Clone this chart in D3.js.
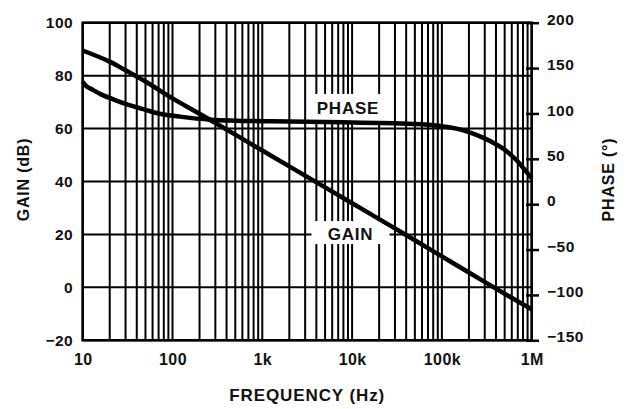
<!DOCTYPE html>
<html>
<head>
<meta charset="utf-8">
<script src="https://cdn.jsdelivr.net/npm/d3@7"></script>
<style>
  html, body { margin: 0; padding: 0; background: #fff; }
  svg { display: block; }
  text { font-family: "Liberation Sans", Arial, Helvetica, sans-serif; font-weight: bold; fill: #111; }
</style>
</head>
<body>
<svg id="chart" width="628" height="409"></svg>
<script>
// Open-loop gain and phase versus frequency
const gainFreq = [10, 20, 30, 50, 100, 200, 500, 1e3, 2e3, 5e3, 1e4, 2e4, 5e4, 1e5, 2e5, 5e5, 1e6];
const gainDb   = [89.5, 85.3, 82.0, 77.8, 71.4, 65.6, 57.7, 51.7, 45.7, 37.8, 31.8, 25.8, 17.8, 11.7, 5.6, -2.4, -8.3];

const phaseFreq = [10, 11, 13, 16, 22, 30, 50, 70, 120, 270, 500, 1e3, 2e3, 5e3, 1e4, 2e4, 5e4, 7e4, 1e5, 1.5e5, 2e5, 3e5, 4e5, 5e5, 7e5, 8.5e5, 1e6];
const phaseDeg  = [135, 130, 126, 121, 115.5, 110.5, 104, 100, 96.5, 93, 92, 91.5, 91, 90.5, 90, 89.5, 88.3, 87.5, 86, 83, 79.5, 72.5, 66, 60, 47, 37, 28.5];

const decadeTicks  = [10, 100, 1e3, 1e4, 1e5, 1e6];
const decadeLabels = ["10", "100", "1k", "10k", "100k", "1M"];
const gainTicks  = [-20, 0, 20, 40, 60, 80, 100];
const phaseTicks = [-150, -100, -50, 0, 50, 100, 150, 200];

const svg = d3.select("#chart");
const L = 82.7, R = 531.7, T = 22.7, B = 340.3;

const x  = d3.scaleLog().domain([10, 1e6]).range([L, R]);
const yG = d3.scaleLinear().domain([-20, 100]).range([B, T]);
const yP = d3.scaleLinear().domain([-150, 200]).range([B, T]);

// grid: every 1..9 step of each decade, and every 20 dB
const grid = svg.append("g").attr("stroke", "#000").attr("stroke-width", 2);
grid.selectAll("line.v").data(x.ticks()).join("line")
  .attr("class", "v")
  .attr("x1", d => x(d)).attr("x2", d => x(d))
  .attr("y1", T).attr("y2", B);
grid.selectAll("line.h").data(gainTicks).join("line")
  .attr("class", "h")
  .attr("x1", L).attr("x2", R)
  .attr("y1", d => yG(d)).attr("y2", d => yG(d));

// frame
svg.append("rect")
  .attr("x", L).attr("y", T).attr("width", R - L).attr("height", B - T)
  .attr("fill", "none").attr("stroke", "#000").attr("stroke-width", 2.5);

// left axis (gain)
const axL = svg.append("g").attr("transform", `translate(${L},0)`)
  .call(d3.axisLeft(yG).tickValues(gainTicks).tickSize(0).tickPadding(9.5));
axL.select(".domain").remove();
axL.selectAll("text").attr("font-size", 15.5).attr("letter-spacing", 0.5)
  .attr("font-family", null).attr("fill", "#111");

// right axis (phase): short ticks straddling the frame
const axR = svg.append("g").attr("transform", `translate(${R - 5.7},0)`)
  .call(d3.axisRight(yP).tickValues(phaseTicks).tickSize(13).tickPadding(8));
axR.select(".domain").remove();
axR.selectAll("line").attr("stroke", "#000").attr("stroke-width", 2.5);
axR.selectAll("text").attr("font-size", 15.5).attr("letter-spacing", 0.5)
  .attr("font-family", null).attr("fill", "#111").attr("dy", "0.1em");

// bottom axis (frequency)
const axB = svg.append("g").attr("transform", `translate(0,${B})`)
  .call(d3.axisBottom(x).tickValues(decadeTicks).tickSize(0).tickPadding(13)
    .tickFormat((d, i) => decadeLabels[i]));
axB.select(".domain").remove();
axB.selectAll("text").attr("font-size", 16).attr("letter-spacing", 0.4)
  .attr("font-family", null).attr("fill", "#111");

// curve labels on white boxes
function boxLabel(txt, cx, cy, w, h, baselineOff) {
  svg.append("rect").attr("x", cx - w / 2).attr("y", cy - h / 2)
    .attr("width", w).attr("height", h).attr("fill", "#fff");
  svg.append("text").attr("x", cx).attr("y", cy + baselineOff)
    .attr("text-anchor", "middle").attr("font-size", 17).attr("letter-spacing", 0.8)
    .text(txt);
}
boxLabel("PHASE", x(9e3), yG(67.8), 79, 28, 6.3);
boxLabel("GAIN", x(9.6e3), yG(20.7), 78, 23, 7.8);

// curves
const line = d3.line().curve(d3.curveCatmullRom.alpha(0.5));
svg.append("path")
  .attr("d", line(gainFreq.map((f, i) => [x(f), yG(gainDb[i])])))
  .attr("fill", "none").attr("stroke", "#000").attr("stroke-width", 4.5)
  .attr("stroke-linecap", "butt");
svg.append("path")
  .attr("d", line(phaseFreq.map((f, i) => [x(f), yP(phaseDeg[i])])))
  .attr("fill", "none").attr("stroke", "#000").attr("stroke-width", 4.5)
  .attr("stroke-linecap", "butt");

// axis titles
svg.append("text").attr("transform", `translate(28.5,${(T + B) / 2 - 2}) rotate(-90)`)
  .attr("text-anchor", "middle").attr("font-size", 16).attr("letter-spacing", 0.8)
  .text("GAIN (dB)");
svg.append("text").attr("transform", `translate(614,${(T + B) / 2 - 2}) rotate(-90)`)
  .attr("text-anchor", "middle").attr("font-size", 16).attr("letter-spacing", 0.8)
  .text("PHASE (°)");
svg.append("text").attr("x", (L + R) / 2).attr("y", 400.7)
  .attr("text-anchor", "middle").attr("font-size", 17).attr("letter-spacing", 0.9)
  .text("FREQUENCY (Hz)");
</script>
</body>
</html>
